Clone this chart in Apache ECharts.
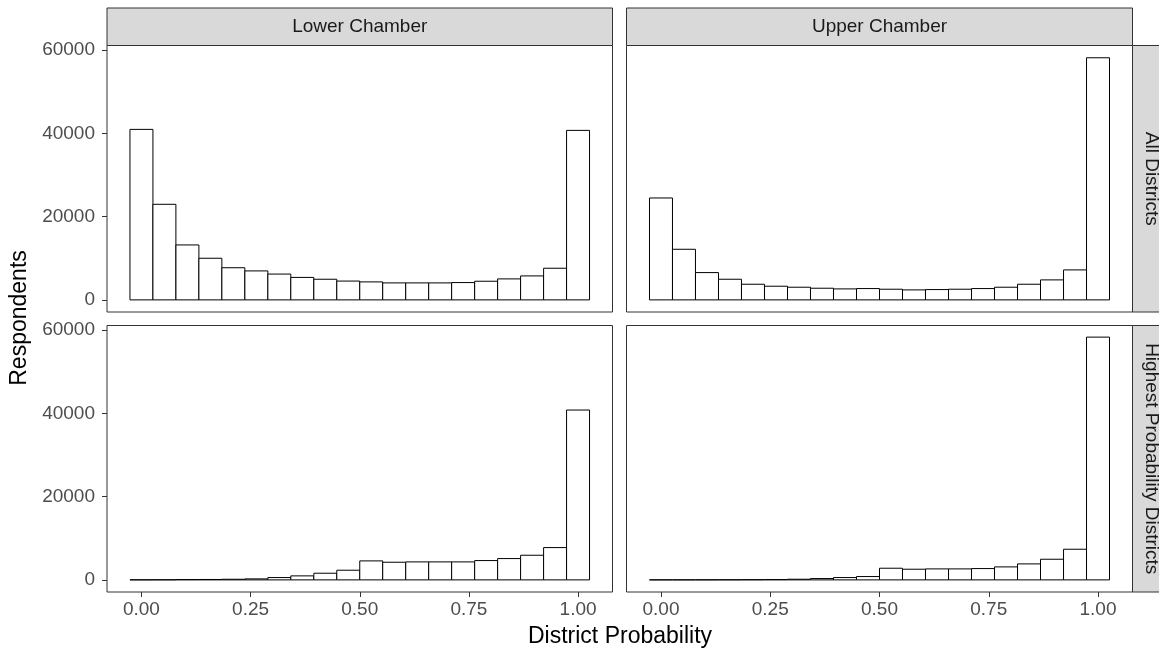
<!DOCTYPE html>
<html>
<head>
<meta charset="utf-8">
<script src="https://cdn.jsdelivr.net/npm/echarts@6/dist/echarts.min.js"></script>
<style>
html,body{margin:0;padding:0;background:#fff;}
#chart{width:1159px;height:648px;}
</style>
</head>
<body>
<div id="chart"></div>
<script>
// ---- data ----
var binCenters = [0, 0.0526, 0.1053, 0.1579, 0.2105, 0.2632, 0.3158, 0.3684, 0.4211, 0.4737,
                  0.5263, 0.5789, 0.6316, 0.6842, 0.7368, 0.7895, 0.8421, 0.8947, 0.9474, 1.0];
var binWidth = 0.0526;
var lowerAll = [40960, 22960, 13200, 10000, 7720, 6960, 6200, 5400, 4960, 4520,
                4320, 4080, 4080, 4080, 4160, 4480, 5040, 5760, 7600, 40720];
var upperAll = [24480, 12160, 6560, 4960, 3760, 3280, 3040, 2800, 2640, 2720,
                2560, 2400, 2480, 2560, 2720, 3040, 3760, 4800, 7200, 58160];
var lowerHigh = [20, 30, 80, 100, 150, 240, 560, 960, 1600, 2320,
                 4560, 4240, 4320, 4320, 4320, 4640, 5120, 5920, 7760, 40800];
var upperHigh = [10, 10, 20, 30, 50, 80, 160, 320, 560, 800,
                 2800, 2560, 2640, 2640, 2720, 3120, 3840, 4960, 7360, 58320];
var colLabels = ['Lower Chamber', 'Upper Chamber'];
var rowLabels = ['All Districts', 'Highest Probability Districts'];
var xTicks = [0, 0.25, 0.5, 0.75, 1.0];
var yTicks = [0, 20000, 40000, 60000];

// ---- layout ----
var FONT = 'Liberation Sans, Arial, sans-serif';
var panels = [
  {left:107,   top:45.5,  width:505.5, height:266.5, data:lowerAll,  showX:false, showY:true},
  {left:626.5, top:45.5,  width:506,   height:266.5, data:upperAll,  showX:false, showY:false},
  {left:107,   top:325.5, width:505.5, height:266.5, data:lowerHigh, showX:true,  showY:true},
  {left:626.5, top:325.5, width:506,   height:266.5, data:upperHigh, showX:true,  showY:false}
];
var xMin = -0.0789, xMax = 1.0789;
var yMin = -2910, yMax = 61110;

var grids = [], xAxes = [], yAxes = [], series = [];
panels.forEach(function(p, i){
  grids.push({left:p.left, top:p.top, width:p.width, height:p.height,
    show:true, borderColor:'#333333', borderWidth:1, backgroundColor:'#ffffff', containLabel:false});
  xAxes.push({type:'value', gridIndex:i, min:xMin, max:xMax, position:'bottom',
    axisLine:{show:false, onZero:false}, splitLine:{show:false},
    axisTick:{show:p.showX, customValues:xTicks, length:5, lineStyle:{color:'#333333', width:1}},
    axisLabel:{show:p.showX, customValues:xTicks, margin:8, fontFamily:FONT, fontSize:19, color:'#4D4D4D',
      formatter:function(v){ return v.toFixed(2); }}
  });
  yAxes.push({type:'value', gridIndex:i, min:yMin, max:yMax, position:'left',
    axisLine:{show:false, onZero:false}, splitLine:{show:false},
    axisTick:{show:p.showY, customValues:yTicks, length:5, lineStyle:{color:'#333333', width:1}},
    axisLabel:{show:p.showY, customValues:yTicks, margin:12, fontFamily:FONT, fontSize:19, color:'#4D4D4D',
      formatter:function(v){ return String(v); }}
  });
  var d = binCenters.map(function(c, k){ return [c, p.data[k]]; });
  series.push({
    type:'custom', xAxisIndex:i, yAxisIndex:i, data:d, silent:true, animation:false,
    renderItem:function(params, api){
      var x = api.value(0), y = api.value(1);
      var p0 = api.coord([x - binWidth/2, y]);
      var p1 = api.coord([x + binWidth/2, 0]);
      return {type:'rect',
        shape:{x:p0[0], y:p0[1], width:p1[0]-p0[0], height:Math.max(p1[1]-p0[1], 0.01)},
        style:{fill:'#ffffff', stroke:'#000000', lineWidth:1}};
    }
  });
});

var graphics = [];
// top strips
[[107, 505.5], [626.5, 506]].forEach(function(s, i){
  graphics.push({type:'rect', shape:{x:s[0], y:8, width:s[1], height:37.5},
    style:{fill:'#D9D9D9', stroke:'#333333', lineWidth:1}, z:10});
  graphics.push({type:'text', x:s[0]+s[1]/2, y:27, z:11,
    style:{text:colLabels[i], fontFamily:FONT, fontSize:19, fill:'#1A1A1A', align:'center', verticalAlign:'middle'}});
});
// right strips
[[45.5, 266.5], [325.5, 266.5]].forEach(function(s, i){
  graphics.push({type:'rect', shape:{x:1132.5, y:s[0], width:37.5, height:s[1]},
    style:{fill:'#D9D9D9', stroke:'#333333', lineWidth:1}, z:10});
  graphics.push({type:'text', x:1151.5, y:s[0]+s[1]/2, rotation:-Math.PI/2, z:11,
    style:{text:rowLabels[i], fontFamily:FONT, fontSize:19, fill:'#1A1A1A', align:'center', verticalAlign:'middle'}});
});
// axis titles
graphics.push({type:'text', x:620, y:637, z:11,
  style:{text:'District Probability', fontFamily:FONT, fontSize:23, fill:'#000000', align:'center', verticalAlign:'middle'}});
graphics.push({type:'text', x:20, y:318, rotation:Math.PI/2, z:11,
  style:{text:'Respondents', fontFamily:FONT, fontSize:23, fill:'#000000', align:'center', verticalAlign:'middle'}});

var chart = echarts.init(document.getElementById('chart'), null, {renderer:'canvas'});
chart.setOption({
  backgroundColor:'#ffffff',
  animation:false,
  grid:grids, xAxis:xAxes, yAxis:yAxes, series:series,
  graphic:graphics
});
</script>
</body>
</html>
